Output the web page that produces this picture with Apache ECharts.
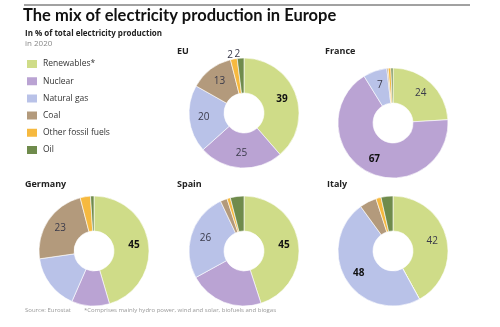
<!DOCTYPE html>
<html><head><meta charset="utf-8">
<script src="https://cdn.jsdelivr.net/npm/echarts@6/dist/echarts.min.js"></script>
<style>html,body{margin:0;padding:0;background:#fff}#c{width:500px;height:327px}</style>
</head><body><div id="c"></div>
<script>
const sources = ['Renewables*', 'Nuclear', 'Natural gas', 'Coal', 'Other fossil fuels', 'Oil'];
const countries = ['EU', 'France', 'Germany', 'Spain', 'Italy'];
const euValues = [39, 25, 20, 13, 2, 2];
const franceValues = [24, 67, 7, 0.4, 0.8, 0.6];
const germanyValues = [45, 11, 16, 23, 3, 1];
const spainValues = [45, 22, 26, 2, 1, 4];
const italyValues = [42, 0, 48, 5, 1.5, 3.5];
// which value labels are printed in the reference (1 = inside, 2 = outside)
const euLabels = [1, 1, 1, 1, 2, 2];
const franceLabels = [1, 1, 1, 0, 0, 0];
const germanyLabels = [1, 0, 0, 1, 0, 0];
const spainLabels = [1, 0, 1, 0, 0, 0];
const italyLabels = [1, 0, 1, 0, 0, 0];

const colors = ['#cfdc88', '#baa3d3', '#b9c2e8', '#b39a7c', '#f6b93f', '#6f8b4c'];
const font = '"Open Sans", "Noto Sans", sans-serif';
const layout = [
  {c: [244, 113], t: [177, 47]},
  {c: [393, 123], t: [325, 47]},
  {c: [94, 251], t: [25, 180]},
  {c: [244, 251], t: [177, 180]},
  {c: [393, 251], t: [327, 180]}
];
const allValues = [euValues, franceValues, germanyValues, spainValues, italyValues];
const allLabels = [euLabels, franceLabels, germanyLabels, spainLabels, italyLabels];

const series = countries.map((name, k) => {
  const vals = allValues[k], labs = allLabels[k];
  const mx = Math.max(...vals);
  return {
    type: 'pie', name: name, center: layout[k].c, radius: [20, 55],
    startAngle: 90, clockwise: true, avoidLabelOverlap: false,
    silent: true, animation: false,
    itemStyle: {borderColor: '#fff', borderWidth: 0.6},
    labelLine: {show: false},
    data: sources.map((s, i) => ({
      name: s, value: vals[i],
      itemStyle: {color: colors[i]},
      label: {
        show: labs[i] > 0,
        position: labs[i] === 2 ? 'outside' : 'inside',
        distanceToLabelLine: 0,
        formatter: String(vals[i]),
        fontFamily: font, fontSize: 10,
        fontWeight: vals[i] === mx ? 'bold' : 'normal',
        color: vals[i] === mx ? '#111' : '#3a3a4a'
      },
      labelLine: {show: false, length: 4, length2: 0}
    }))
  };
});

const graphics = [
  {type: 'line', shape: {x1: 24, y1: 5, x2: 470, y2: 5}, style: {stroke: '#444', lineWidth: 1}},
  {type: 'text', left: 23, top: 7, style: {text: 'The mix of electricity production in Europe', font: 'bold 16.5px Lato, ' + font, fill: '#111'}},
  {type: 'text', left: 25, top: 30, style: {text: 'In % of total electricity production', font: 'bold 8px ' + font, fill: '#222'}},
  {type: 'text', left: 25, top: 40, style: {text: 'in 2020', font: '8px ' + font, fill: '#888'}},
  {type: 'text', left: 25, top: 307, style: {text: 'Source: Eurostat', font: '6px ' + font, fill: '#999'}},
  {type: 'text', left: 84, top: 307, style: {text: '*Comprises mainly hydro power, wind and solar, biofuels and biogas', font: '6px ' + font, fill: '#999'}}
];
countries.forEach((n, k) => graphics.push({type: 'text', left: layout[k].t[0], top: layout[k].t[1], style: {text: n, font: 'bold 9px ' + font, fill: '#222'}}));

const chart = echarts.init(document.getElementById('c'), null, {renderer: 'canvas'});
chart.setOption({
  backgroundColor: '#fff',
  color: colors,
  animation: false,
  legend: {
    orient: 'vertical', left: 25, top: 58, padding: 0, itemWidth: 12, itemHeight: 10, itemGap: 5.2,
    icon: 'rect', selectedMode: false, data: sources,
    textStyle: {fontFamily: font, fontSize: 8.5, color: '#333', padding: [0, 0, 0, 0]}
  },
  graphic: graphics,
  series: series
});
</script></body></html>
